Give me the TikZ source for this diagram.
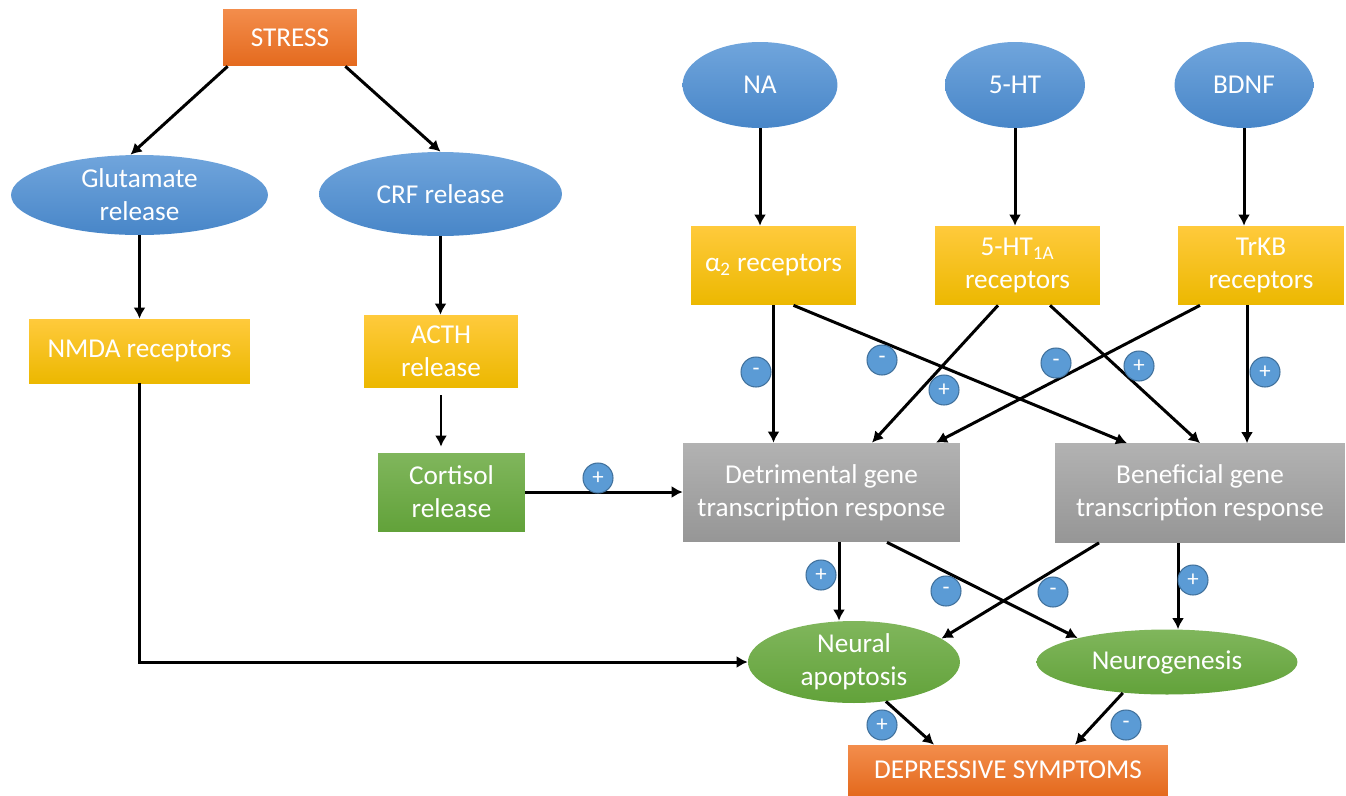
\documentclass[tikz,border=0pt]{standalone}
\usepackage{fontspec}
\setmainfont{Carlito}
\usetikzlibrary{shapes.geometric,arrows.meta,calc}
\definecolor{BlueTop}{RGB}{112,165,220}
\definecolor{BlueBot}{RGB}{72,134,200}
\definecolor{OrTop}{RGB}{243,141,76}
\definecolor{OrBot}{RGB}{228,106,30}
\definecolor{YeTop}{RGB}{255,202,60}
\definecolor{YeBot}{RGB}{236,184,0}
\definecolor{GrTop}{RGB}{128,182,92}
\definecolor{GrBot}{RGB}{98,162,58}
\definecolor{GyTop}{RGB}{178,178,178}
\definecolor{GyBot}{RGB}{150,150,150}
\definecolor{BadgeBlue}{RGB}{91,155,213}
\definecolor{BadgeEdge}{RGB}{65,113,156}

\begin{document}
\begin{tikzpicture}[x=0.02cm,y=-0.02cm,
    every node/.style={text=white,font=\fontsize{15.5}{18.8}\selectfont,align=center,inner sep=0pt},
    wh/.style 2 args={minimum width=#1,minimum height=#2},
    blob/.style={ellipse,top color=BlueTop,bottom color=BlueBot},
    gblob/.style={ellipse,top color=GrTop,bottom color=GrBot},
    orbox/.style={rectangle,top color=OrTop,bottom color=OrBot},
    ybox/.style={rectangle,top color=YeTop,bottom color=YeBot},
    gbox/.style={rectangle,top color=GrTop,bottom color=GrBot},
    grbox/.style={rectangle,top color=GyTop,bottom color=GyBot},
    badge/.style={circle,fill=BadgeBlue,draw=BadgeEdge,line width=0.6pt,minimum size=0.6cm,font=\fontsize{13}{13}\selectfont},
    arr/.style={-{Latex[length=0.22cm,width=0.24cm]},line width=1.7pt}]
  \useasboundingbox (0,0) rectangle (1346,795);

  \node[orbox,wh={2.68cm}{1.14cm}] (stress) at (290,37.5) {STRESS};
  \node[blob,wh={5.14cm}{1.6cm}] (glut) at (139.5,195) {Glutamate\\release};
  \node[blob,wh={4.86cm}{1.68cm}] (crf) at (440.5,194) {CRF release};
  \node[blob,wh={3.1cm}{1.72cm}] (na) at (760,85) {NA};
  \node[blob,wh={2.8cm}{1.72cm}] (ht) at (1015,85) {5-HT};
  \node[blob,wh={2.78cm}{1.72cm}] (bdnf) at (1244,85) {BDNF};
  \node[ybox,wh={3.3cm}{1.58cm}] (a2) at (773.5,265.5) {α\textsubscript{2} receptors};
  \node[ybox,wh={3.3cm}{1.58cm}] (htr) at (1017.5,265.5) {5-HT\textsubscript{1A}\\receptors};
  \node[ybox,wh={3.32cm}{1.58cm}] (trkb) at (1261,265.5) {TrKB\\receptors};
  \node[ybox,wh={4.42cm}{1.28cm}] (nmda) at (139.5,351) {NMDA receptors};
  \node[ybox,wh={3.08cm}{1.44cm}] (acth) at (441,351) {ACTH\\release};
  \node[gbox,wh={2.94cm}{1.56cm}] (cort) at (451.5,492) {Cortisol\\release};
  \node[grbox,wh={5.54cm}{1.98cm}] (det) at (821.5,492.5) {Detrimental gene\\transcription response};
  \node[grbox,wh={5.8cm}{1.98cm}] (ben) at (1200,493) {Beneficial gene\\transcription response};
  \node[gblob,wh={4.24cm}{1.64cm}] (apop) at (854,662) {Neural\\apoptosis};
  \node[gblob,wh={5.22cm}{1.3cm}] (neurog) at (1167,662) {Neurogenesis};
  \node[orbox,wh={6.4cm}{1.0cm}] (dep) at (1008,770) {DEPRESSIVE SYMPTOMS};

  \coordinate (trkbout) at ($(trkb.south)+(-14,0)$);
  \coordinate (detout) at ($(det.south)+(17.5,0)$);
  \coordinate (benout) at ($(ben.south)+(-22,0)$);

  \draw[arr] ($(stress.south west)+(5,0)$) -- ($(glut.north)+(-9,0)$);
  \draw[arr] ($(stress.south east)+(-12,0)$) -- (crf.north);
  \draw[arr] (glut.south) -- (glut.south |- nmda.north);
  \draw[arr] (crf.south) -- (crf.south |- acth.north);
  \draw[arr,shorten <=0.16cm,shorten >=0.12cm] (acth.south) -- (acth.south |- cort.north);
  \draw[arr] (nmda.south) |- (apop.west);
  \draw[arr] (cort.east) -- (cort.east -| det.west);
  \draw[arr] (na.south) -- (na.south |- a2.north);
  \draw[arr] (ht.south) -- (ht.south |- htr.north);
  \draw[arr] (bdnf.south) -- (bdnf.south |- trkb.north);
  \draw[arr] (a2.south) -- (a2.south |- det.north);
  \draw[arr] ($(a2.south)+(20,0)$) -- ($(ben.north)+(-73,0)$);
  \draw[arr] ($(htr.south)+(-19.5,0)$) -- ($(det.north)+(50.5,0)$);
  \draw[arr] ($(htr.south)+(32.5,0)$) -- (ben.north);
  \draw[arr] ($(trkb.south)+(-61,0)$) -- ($(det.north)+(114.5,0)$);
  \draw[arr] (trkbout) -- (trkbout |- ben.north);
  \draw[arr] (detout) -- (detout |- apop.north);
  \draw[arr] ($(det.south)+(65.5,0)$) -- (neurog.165);
  \draw[arr] ($(ben.south)+(-101,0)$) -- (apop.15);
  \draw[arr] (benout) -- (benout |- neurog.north);
  \draw[arr] (apop.309) -- ($(dep.north)+(-74,0)$);
  \draw[arr] (neurog.215) -- ($(dep.north)+(67,0)$);

  \foreach \x/\y/\s [count=\i] in {598/478/+,756/372/-,882/360/-,944/390/+,1056/363/-,1139/366/+,1265/372/+,
      821/575/+,946/591/-,1053/592/-,1193/580/+,882/725/+,1126/725/-}
    \node[badge] (sg\i) at (\x,\y) {\s};
\end{tikzpicture}
\end{document}
